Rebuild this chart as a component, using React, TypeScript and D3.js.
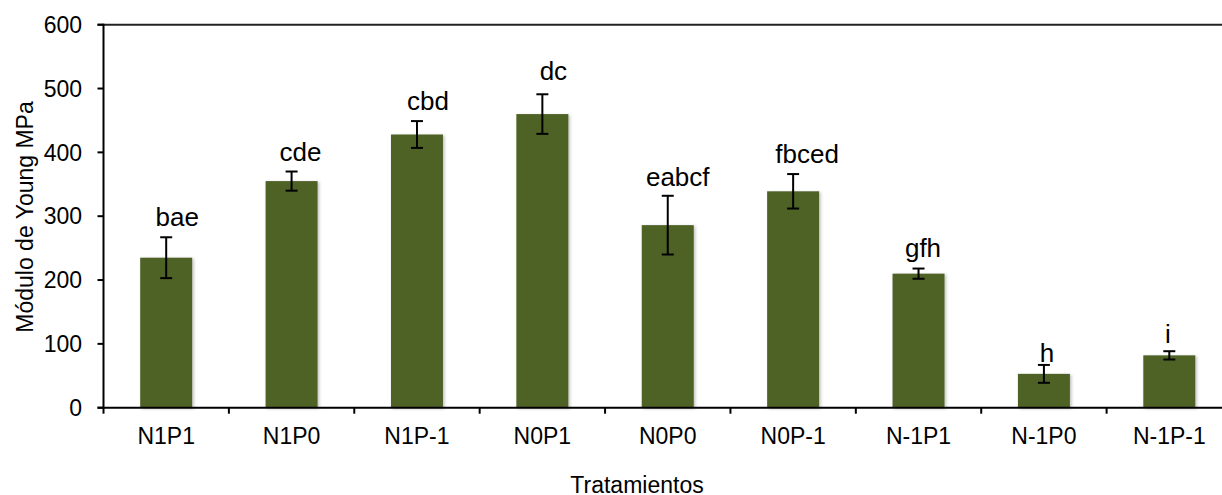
import React from "react";
import * as d3 from "d3";

const categories = ["N1P1", "N1P0", "N1P-1", "N0P1", "N0P0", "N0P-1", "N-1P1", "N-1P0", "N-1P-1"];
const values = [235, 355, 428, 460, 286, 339, 210, 53, 82];
const errors = [32, 15, 21, 31, 46, 27, 8, 14, 6.5];
const letters = ["bae", "cde", "cbd", "dc", "eabcf", "fbced", "gfh", "h", "i"];
const yTicks = [0, 100, 200, 300, 400, 500, 600];

// label placement tweaks (styling, not data)
const letterDx = [11, 9, 11, 11, 10, 14, 4.5, 3, -1.5];
const letterGap = [11, 10.7, 11, 14.4, 9.3, 11, 12, 3, 8.4];

const W = 1222;
const H = 495;
const left = 103.5;
const right = 1232;
const top = 24.7;
const bottom = 407.7;
const FONT = "'Liberation Sans', Arial, sans-serif";
const BAR = "#4F6228";

export default function App() {
  const x = d3.scaleBand<string>().domain(categories).range([left, right]).paddingInner(0).paddingOuter(0);
  const y = d3.scaleLinear().domain([0, 600]).range([bottom, top]);
  const bw = 52;
  const bandEdges = categories.map((c) => x(c) as number).concat([right]);

  return (
    <svg width={W} height={H} style={{ position: "absolute", left: 0, top: 0, background: "#fff" }}>
      <defs>
        <filter id="sh" x="-20%" y="-20%" width="150%" height="150%">
          <feDropShadow dx="1.5" dy="1" stdDeviation="1.5" floodColor="#000" floodOpacity="0.25" />
        </filter>
      </defs>
      <rect x={0} y={0} width={W} height={H} fill="#fff" />
      {categories.map((c, i) => {
        const cx = (x(c) as number) + x.bandwidth() / 2;
        return (
          <rect key={c} x={cx - bw / 2} y={y(values[i])} width={bw} height={bottom - y(values[i])} fill={BAR} filter="url(#sh)" />
        );
      })}
      <line x1={left - 6} x2={W} y1={y(600)} y2={y(600)} stroke="#222" strokeWidth={2} />
      <line x1={left} x2={left} y1={top - 1} y2={bottom + 1} stroke="#000" strokeWidth={2} />
      {yTicks.map((t) => (
        <g key={t}>
          <line x1={left - 6} x2={left} y1={y(t)} y2={y(t)} stroke="#000" strokeWidth={2} />
          <text x={82} y={y(t)} dy="0.36em" textAnchor="end" fontFamily={FONT} fontSize={23} fill="#000">
            {t}
          </text>
        </g>
      ))}
      <line x1={left - 6} x2={W} y1={bottom} y2={bottom} stroke="#000" strokeWidth={2} />
      {bandEdges.map((e, i) => (
        <line key={i} x1={e} x2={e} y1={bottom} y2={bottom + 6} stroke="#000" strokeWidth={2} />
      ))}
      {categories.map((c) => (
        <text key={c} x={(x(c) as number) + x.bandwidth() / 2} y={444} textAnchor="middle" fontFamily={FONT} fontSize={23} fill="#000">
          {c}
        </text>
      ))}
      {categories.map((c, i) => {
        const cx = (x(c) as number) + x.bandwidth() / 2;
        const y1 = y(values[i] + errors[i]);
        const y2 = y(values[i] - errors[i]);
        return (
          <g key={c} stroke="#000" strokeWidth={2}>
            <line x1={cx} x2={cx} y1={y1} y2={y2} />
            <line x1={cx - 6} x2={cx + 6} y1={y1} y2={y1} />
            <line x1={cx - 6} x2={cx + 6} y1={y2} y2={y2} />
          </g>
        );
      })}
      {categories.map((c, i) => {
        const cx = (x(c) as number) + x.bandwidth() / 2;
        const yt = y(values[i] + errors[i]);
        return (
          <text key={c} x={cx + letterDx[i]} y={yt - letterGap[i]} textAnchor="middle" fontFamily={FONT} fontSize={26} fill="#000">
            {letters[i]}
          </text>
        );
      })}
      <text x={637} y={493} textAnchor="middle" fontFamily={FONT} fontSize={23} fill="#000">
        Tratamientos
      </text>
      <text transform={`translate(33,217) rotate(-90)`} textAnchor="middle" fontFamily={FONT} fontSize={23} fill="#000">
        Módulo de Young MPa
      </text>
    </svg>
  );
}
